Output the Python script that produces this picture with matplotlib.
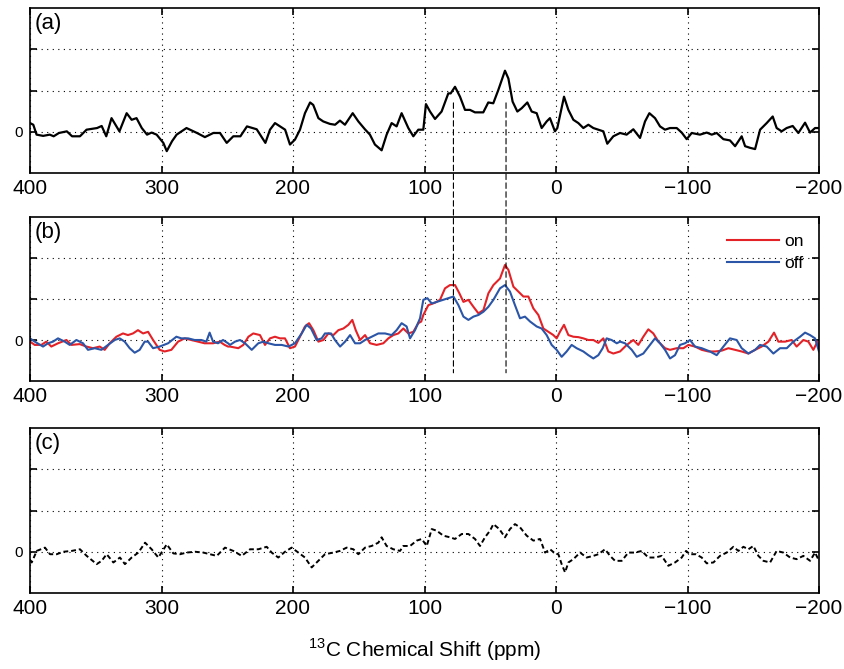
import matplotlib
matplotlib.use('Agg')
import matplotlib.pyplot as plt
from matplotlib.patches import ConnectionPatch

plt.rcParams['font.family'] = ['Liberation Sans', 'DejaVu Sans']
plt.rcParams['mathtext.fontset'] = 'custom'
plt.rcParams['mathtext.rm'] = 'Liberation Sans'

# panel (a): difference spectrum
a_ppm = [400, 397.5, 395, 390, 385, 382, 378, 372, 368, 362, 357, 349, 345.5, 342, 338, 335, 332,
         326.5, 322.7, 319, 315, 311, 307.5, 303.7, 298.6, 296, 292, 288.5, 281, 273, 267, 260.6,
         255.5, 250.4, 245.4, 240, 235, 227.6, 221, 217.5, 213.7,
         209.9, 206, 202.3, 198.5, 194.7, 190.9, 187, 184.6, 180.7, 177, 171.9, 168, 164.3, 160.5,
         154.6, 150.3, 145.3, 141.5, 137.7, 132.6, 128.8, 125, 121.2, 117.4, 112.3, 108.5, 104.7,
         100.9, 98.9, 95.8, 92, 87, 81.9, 80.1, 76.8, 73, 69.2, 65.4, 61.6,
         55.3, 51.5, 47.7, 43.9, 38.8, 36.2, 33, 29.4, 26.1, 21.8, 18.5, 14.7, 10.9, 7.1, 4.6, 0.8,
         -1, -6.1, -9.4, -13.2, -17, -20.8, -24.6, -28.4, -32.2, -36, -39, -43.6, -48.7, -53.7,
         -58.8, -63.9, -67.7, -71, -75.3, -79.1, -82.9, -86.7,
         -91.8, -95.6, -99.4, -103.2, -109.5, -114.6, -118.4, -122.2, -127.3, -132.3, -136.2,
         -141.2, -143.8, -147.6, -151.4, -155.2, -160.2, -164.8, -167.8, -171.6, -175.4, -180,
         -184.3, -189.4, -193.2, -197, -200]
a_val = [0.21, 0.17, -0.07, -0.1, -0.07, -0.11, -0.03, 0.01, -0.11, -0.11, 0.05, 0.09, 0.14, -0.11,
         0.33, 0.17, 0.01, 0.45, 0.29, 0.33, 0.09, -0.07, -0.02, -0.07, -0.27, -0.47, -0.23, -0.07,
         0.09, -0.03, -0.13, -0.03, -0.03, -0.27, -0.11, -0.11, 0.13, 0.06, -0.27, 0.05, 0.21,
         0.13, 0.05, -0.31, -0.19, 0.05, 0.45, 0.71, 0.65, 0.33, 0.25, 0.19, 0.17, 0.27, 0.17,
         0.45, 0.25, 0.06, -0.07, -0.31, -0.45, -0.07, 0.21, 0.13, 0.45, 0.09, -0.11, 0.05,
         0.05, 0.67, 0.49, 0.31, 0.49, 0.93, 0.93, 1.09, 0.85, 0.53, 0.53, 0.47,
         0.47, 0.71, 0.69, 1.01, 1.48, 1.29, 0.73, 0.49, 0.57, 0.71, 0.49, 0.45, 0.09, 0.25, 0.33,
         0.01, 0.09, 0.85, 0.53, 0.29, 0.21, 0.09, 0.17, 0.09, 0.05, 0.01, -0.29, -0.11, -0.03,
         -0.07, 0.06, -0.15, 0.25, 0.45, 0.33, 0.13, 0.05, 0.09,
         0.09, -0.02, -0.18, -0.03, -0.07, -0.02, -0.07, -0.03, -0.18, -0.21, -0.35,
         -0.11, -0.35, -0.39, -0.42, 0.05, 0.21, 0.37, 0.09, 0.01, 0.09, 0.14,
         -0.03, 0.22, -0.02, 0.09, 0.09]

# panel (b): "on" spectrum
on_ppm = [400, 396.4, 391.4, 387.6, 383.8, 378.7, 372.3, 368.5, 362.2, 357.1, 352.1, 347, 343.2,
          339.4, 334.3, 329.3, 325.5, 321.7, 317.9, 314, 310.2, 306.4, 301.4, 297.6, 292.5, 287.4,
          282.4, 277.3, 272.2, 267.2, 260.8, 255.7, 252, 249.4,
          247.9, 241.6, 237.8, 233.9, 230.2, 225.1, 221.3, 217.5, 213.7, 209.9, 206.1, 202.3,
          198.5, 194.7, 190.9, 187.8, 184.5, 180.7, 176.9, 173.1, 169.3, 165.5, 161.7, 157.9,
          154.9, 152.3, 149, 145.2, 141.4, 136.4, 131.3, 127.5, 123.7, 119.9, 116.1, 112.3, 108.5,
          104.7,
          102.5, 100.9, 97.1, 92, 88.2, 84.4, 80.6, 76.8, 73.5, 70.4, 66.6, 62.8, 59, 55.2, 51.4,
          47.6, 42.6, 38.8, 36.2, 32.4, 28.6, 24.8, 21, 17.2, 13.4, 9.6, 5.8, 2, -0.5, -3, -6.1,
          -9.4, -13.2, -17, -20.8, -24.6, -28.4, -32.2, -36, -39.8, -43.6, -48.7,
          -53.8, -58.8, -62.6, -66.4, -70.2, -74, -77.9, -82.9, -86.7, -91.8, -96.9, -100.7,
          -105.7, -110.8, -115.9, -121, -126, -131.1, -136.2, -141.2, -146.3, -151.4, -156.4,
          -161.5, -165.8, -169.1, -174.2, -179.2, -183, -188.1, -191.9, -195.7, -198.8, -200]
on_val = [-0.04, -0.12, -0.12, -0.04, -0.16, -0.08, 0, -0.12, -0.1, -0.16, -0.2, -0.16, -0.24,
          -0.08, 0.08, 0.16, 0.12, 0.16, 0.24, 0.16, 0.2, 0, -0.24, -0.28, -0.24, -0.04,
          0.04, 0, -0.04, -0.08, -0.08, -0.04, -0.12, -0.16,
          -0.16, -0.2, -0.12, 0.08, 0.16, 0.12, -0.12, 0.04, 0.08, 0.04, 0.04, -0.2,
          -0.16, 0.08, 0.33, 0.41, 0.24, -0.04, 0, 0.16, 0.12, 0.24, 0.28, 0.37,
          0.49, 0.24, 0, 0.12, -0.08, -0.12, -0.08, 0.04, 0.12, 0.16, 0.28, 0.16, 0.2,
          0.41,
          0.45, 0.61, 0.85, 0.91, 0.98, 1.26, 1.34, 1.34, 1.14, 0.93, 0.98, 0.81, 0.65, 0.73, 1.14,
          1.34, 1.5, 1.83, 1.71, 1.3, 1.18, 1.06, 1.06, 0.77, 0.61, 0.28, 0.2, 0.12, 0.04, 0.2, 0.37,
          0.12, 0.08, 0.07, 0.04, 0, 0, -0.07, 0.04, -0.28, -0.33, -0.28,
          -0.12, 0, -0.12, 0.08, 0.26, 0.16, -0.04, -0.2, -0.24, -0.2, -0.2, -0.12,
          -0.16, -0.24, -0.28, -0.28, -0.26, -0.2, -0.24, -0.28, -0.33, -0.24, -0.16,
          -0.04, 0.18, -0.04, -0.04, 0, -0.16, 0, -0.04, -0.24, -0.04, -0.2]

# panel (b): "off" spectrum
off_ppm = [400, 396.4, 390.1, 386.3, 382.5, 378.7, 373.6, 369.8, 364.7, 359.7, 355.9, 350.8,
           345.7, 340.7, 335.6, 331.8, 328, 324.2, 320.4, 316.6, 312.8, 310.2, 306.4, 301.4, 295,
           288.7, 284.9, 279.8, 274.8, 269.7, 265.9, 263.4, 260.8, 257, 253.2, 249.4,
           247.9, 244.1, 240.3, 236.5, 231.4, 226.4, 222.5, 218.7, 213.7, 208.6, 203.5, 198.5,
           193.4, 189.6, 186.3, 182, 178.2, 175.7, 171.1, 168.1, 164.2, 160.4, 156.6, 152.8, 149,
           145.2, 140.2, 135.1, 130, 125, 121.2, 117.4, 113.6, 111, 107.2, 103.4,
           100.9, 97.8, 94.5, 90.7, 85.7, 81.9, 78, 74.2, 70.4, 66.6, 62.8, 59, 55.2, 51.4, 47.6,
           42.6, 38.8, 35, 31.2, 27.4, 23.6, 19.7, 14.7, 10.9, 7.1, 3.3, -0.5, -4.3, -8.1, -11.9,
           -15.7, -20.8, -24.6, -28.4, -32.2, -35.5, -38.5, -42.3, -46.2, -48.7,
           -52.5, -57.6, -61.4, -66.4, -71.5, -75.3, -79.1, -82.9, -86.7, -90.5, -94.3, -98.1,
           -101.9, -105.7, -110.8, -117.1, -122.2, -127.3, -132.3, -137.4, -141.2, -146.3,
           -151.4, -155.2, -160.2, -165.3, -170.4, -175.5, -180.5, -185.6, -189.4, -193.2, -197,
           -200]
off_val = [0.04, -0.04, -0.16, -0.08, -0.04, 0.04, -0.04, -0.12, 0, -0.08, -0.24, -0.2,
           -0.24, -0.12, 0, 0.04, -0.04, -0.2, -0.31, -0.24, -0.04, -0.04, -0.2, -0.16, -0.08,
           0.08, 0.04, 0.04, 0, 0, -0.04, 0.18, -0.04, -0.08, 0, -0.08,
           -0.12, -0.04, 0, -0.08, -0.24, -0.08, -0.04, -0.08, -0.12, -0.12, -0.16, -0.08,
           0.16, 0.37, 0.28, 0, 0.04, 0.16, 0.16, 0, -0.16, -0.04, 0.12, -0.08, -0.08,
           0, 0.08, 0.16, 0.16, 0.12, 0.24, 0.41, 0.33, 0.04, 0.24, 0.53,
           0.98, 1.02, 0.89, 0.93, 0.98, 1.02, 1.06, 0.85, 0.57, 0.49, 0.57, 0.61, 0.69, 0.81, 0.98,
           1.26, 1.34, 1.18, 0.85, 0.53, 0.57, 0.45, 0.33, 0.28, 0.12, -0.12, -0.24, -0.41, -0.28,
           -0.12, -0.2, -0.28, -0.37, -0.45, -0.37, -0.2, 0.04, 0, -0.08, -0.04,
           -0.08, -0.24, -0.41, -0.33, -0.12, 0.04, -0.08, -0.24, -0.45, -0.37, -0.12, -0.08,
           0, -0.16, -0.2, -0.28, -0.37, -0.16, 0.04, 0, -0.2, -0.33,
           -0.24, -0.12, -0.16, -0.33, -0.2, -0.2, -0.04, 0.08, 0.18, 0.12, 0.04,
           -0.28]

# panel (c): on - off
c_ppm = [400, 398.7, 394.9, 388.6, 384.8, 379.7, 374.7, 368.3, 362, 356.9, 349.3, 345.5, 341.7,
         336.6, 331.6, 327.8, 322.7, 317.6, 312.5, 307.5, 302.4, 296, 291, 285.9, 280.9, 274.5,
         268.2, 263.1, 258, 251.7, 245.4, 239, 232.7, 226.4, 220, 216.2, 211.2, 206.1, 201,
         195.9, 190.9, 185.8, 180.7, 175.7, 169.3, 164.3, 159.2, 154.1, 150.3, 145.2, 140.2,
         135.1, 132.6, 128.8, 123.7, 118.6, 116.1, 111,
         105.9, 102.1, 98.3, 94.5, 90.7, 85.7, 80.6, 76.8, 71.7, 66.6, 61.6, 57.8, 54, 50.2, 47.6,
         43.1, 38.8, 35, 31.2, 27.3, 22.3, 17.2, 12.1, 8.3, 4.5, 1.5, -1.8, -4.3, -6.9, -9.4,
         -13.2, -18.3, -23.3, -28.4, -32.2, -37.3, -41.1, -44.9, -50, -55, -60.1, -65.2, -70.2,
         -75.3, -80.4, -85.4, -90.5, -95.6, -98.9, -101.9, -106.5, -110.8, -114.6, -119.7,
         -124.7, -129.8, -134.9, -138.7, -142.5, -146.3, -150.1, -153.9, -157.7, -162.8, -167.8,
         -172.9, -178, -183, -188.1, -193.2, -197, -200]
c_val = [-0.2, -0.26, 0.02, 0.1, -0.06, -0.06, 0, 0.02, 0.06, -0.1, -0.3, -0.22, -0.06,
         -0.26, -0.14, -0.3, -0.14, -0.02, 0.22, 0.06, -0.14, 0.18, -0.04, -0.06, -0.02, 0,
         -0.02, -0.06, -0.1, 0.1, 0.02, -0.1, 0.06, 0.06, 0.12, -0.02, -0.14, 0, 0.1,
         -0.02, -0.14, -0.38, -0.22, -0.06, -0.02, 0.02, 0.1, 0.06, -0.06, 0.1, 0.14,
         0.22, 0.35, 0.14, 0.06, 0.02, 0.14, 0.14,
         0.27, 0.31, 0.14, 0.55, 0.51, 0.39, 0.35, 0.31, 0.43, 0.43, 0.31, 0.14, 0.35, 0.51, 0.67,
         0.55, 0.35, 0.55, 0.67, 0.59, 0.39, 0.27, 0.31, -0.02, 0.06, -0.02, -0.06, -0.3, -0.5, -0.26,
         -0.18, -0.02, -0.14, -0.1, -0.06, 0.06, -0.1, -0.22, -0.22, -0.02, -0.02, 0.02, -0.14,
         -0.14, -0.1, -0.34, -0.26, -0.14, 0.02, -0.06, -0.06, -0.14, -0.28, -0.26,
         -0.1, -0.02, 0.12, 0.02, 0.12, 0.06, 0.14, -0.1, -0.22, -0.26, 0.02,
         -0.02, -0.14, -0.18, -0.1, -0.22, -0.02, -0.22]

peak_ppm = [78, 38]
xticks = [400, 300, 200, 100, 0, -100, -200]
yticks = [0, 1, 2]
ytick_labels = ['0', '', '']

fig = plt.figure(figsize=(8.45, 6.69), dpi=100)
left, width = 30 / 845, 789 / 845
ax_a = fig.add_axes([left, 1 - 173 / 669, width, 165 / 669])
ax_b = fig.add_axes([left, 1 - 381 / 669, width, 164 / 669])
ax_c = fig.add_axes([left, 1 - 593 / 669, width, 165 / 669])

ax_a.plot(a_ppm, a_val, color='black', lw=1.6)
ax_b.plot(on_ppm, on_val, color='#e32228', lw=1.5, label='on')
ax_b.plot(off_ppm, off_val, color='#2b55a6', lw=1.5, label='off')
ax_c.plot(c_ppm, c_val, color='black', lw=1.4, ls=(0, (2.5, 1.5)))

for ax, tag in zip([ax_a, ax_b, ax_c], ['(a)', '(b)', '(c)']):
    ax.set_xlim(400, -200)
    ax.set_ylim(-1, 3)
    ax.set_xticks(xticks)
    ax.set_yticks(yticks)
    ax.set_yticklabels(ytick_labels)
    ax.grid(True, color='black', ls=(0, (1, 4)), lw=0.8)
    ax.tick_params(axis='both', direction='in', top=True, right=True, length=5, width=1.2)
    ax.tick_params(axis='x', labelsize=15, pad=4)
    ax.tick_params(axis='y', labelsize=11, pad=5)
    for s in ax.spines.values():
        s.set_linewidth(1.2)
    ax.text(0.006, 0.97, tag, transform=ax.transAxes, fontsize=16, va='top', ha='left')

leg = ax_b.legend(loc='upper right', bbox_to_anchor=(1.0, 0.99), frameon=False,
                  fontsize=12.5, handlelength=3.0, handletextpad=0.3, labelspacing=0.35)

# dashed markers linking the two peaks from (a) down into (b)
for p in peak_ppm:
    con = ConnectionPatch(xyA=(p, 0.7), coordsA=ax_a.transData,
                          xyB=(p, -0.8), coordsB=ax_b.transData,
                          color='black', lw=0.8, ls=(0, (5, 3)))
    fig.add_artist(con)

fig.text(425 / 845, 1 - 650 / 669, '$^{13}$C Chemical Shift (ppm)', ha='center', va='center',
         fontsize=15)

plt.savefig('out.png', dpi=100)
